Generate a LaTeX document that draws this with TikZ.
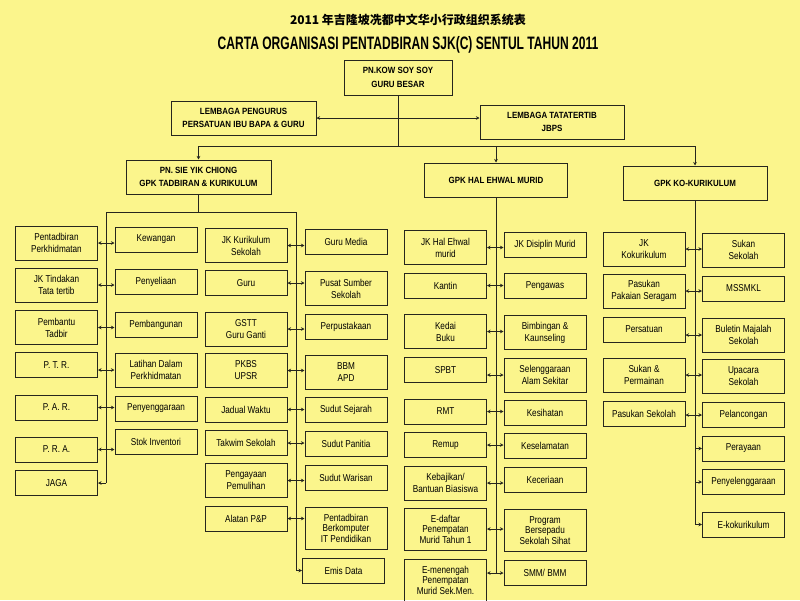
\documentclass[tikz,border=0pt]{standalone}
\usepackage{fontspec}
\setmainfont{Liberation Sans}
\newfontfamily\boxfont[FakeStretch=0.82]{Liberation Sans}
\newfontfamily\headfont[FakeStretch=0.88]{Liberation Sans}
\newfontfamily\titlefont[FakeStretch=0.67]{Liberation Sans}
\newfontfamily\cjkfont{Noto Sans CJK SC}
\usetikzlibrary{
	arrows.meta,
	calc,
	positioning
}
\definecolor{paper}{RGB}{251,245,140}
\definecolor{ink}{RGB}{38,38,30}
\tikzset{
	Org-Box/.style={rectangle,draw=ink,line width=1pt,align=center,inner sep=1pt,
		minimum width=82pt,minimum height=25pt,font=\boxfont\fontsize{10}{12}\selectfont},
	Box-Mid/.style={minimum height=34pt},
	Box-Tall/.style={minimum height=42pt,font=\boxfont\fontsize{10}{10.5}\selectfont},
	Org-Head/.style={rectangle,draw=ink,line width=1pt,align=center,inner sep=1pt,
		minimum height=34pt,font=\headfont\bfseries\fontsize{9}{13.5}\selectfont},
	Org-Line/.style={draw=ink,line width=0.9pt},
	Org-Arrow/.style={{Stealth[length=3.5pt,width=3.5pt]}-{Stealth[length=3.5pt,width=3.5pt]},draw=ink,line width=0.8pt},
	Org-Arrow1/.style={-{Stealth[length=3.5pt,width=3.5pt]},draw=ink,line width=0.8pt}
}
\begin{document}
\begin{tikzpicture}[x=1pt,y=-1pt]
	\useasboundingbox (0,0) rectangle (800,600);
	\fill [paper] (0,0) rectangle (800,600);
	\node [font=\cjkfont\bfseries\fontsize{12}{14}\selectfont] (node_title_cn) at (408,20) {2011 年吉隆坡冼都中文华小行政组织系统表};
	\node [font=\titlefont\bfseries\fontsize{18}{20}\selectfont] (node_title) at (408,45) {CARTA ORGANISASI PENTADBIRAN SJK(C) SENTUL TAHUN 2011};
	% top of the chart
	\node [Org-Head,minimum width=108pt,minimum height=35pt] (node_gb) at (398,77.5) {PN.KOW SOY SOY\\GURU BESAR};
	\node [Org-Head,minimum width=145pt] (node_lp) at (243.5,118) {LEMBAGA PENGURUS\\PERSATUAN IBU BAPA \& GURU};
	\node [Org-Head,minimum width=144pt] (node_lt) at (552,122) {LEMBAGA TATATERTIB\\JBPS};
	\node [Org-Head,minimum width=145pt] (node_gpk1) at (198.5,177) {PN. SIE YIK CHIONG\\GPK TADBIRAN \& KURIKULUM};
	\node [Org-Head,minimum width=143pt] (node_gpk2) at (496,180) {GPK HAL EHWAL MURID};
	\node [Org-Head,minimum width=144pt] (node_gpk3) at (695,183) {GPK KO-KURIKULUM};
	\coordinate (bus_mid) at (398,146);
	\draw [Org-Line] (node_gb.south) -- (bus_mid);
	\draw [Org-Line] (node_gpk1.north |- bus_mid) -- (node_gpk3.north |- bus_mid);
	\draw [Org-Arrow] (node_lp.east) -- (node_lp.east -| node_lt.west);
	\draw [Org-Arrow1] (node_gpk1.north |- bus_mid) -- (node_gpk1.north);
	\draw [Org-Arrow1] (node_gpk2.north |- bus_mid) -- (node_gpk2.north);
	\draw [Org-Arrow1] (node_gpk3.north |- bus_mid) -- (node_gpk3.north);
	% GPK tadbiran & kurikulum
	\node [Org-Box,Box-Mid] (node_a1) at (56.5,243) {Pentadbiran\\Perkhidmatan};
	\node [Org-Box,Box-Mid] (node_a2) at (56.5,285) {JK Tindakan\\Tata tertib};
	\node [Org-Box,Box-Mid] (node_a3) at (56.5,327.5) {Pembantu\\Tadbir};
	\node [Org-Box] (node_a4) at (56.5,365) {P. T. R.};
	\node [Org-Box] (node_a5) at (56.5,407.5) {P. A. R.};
	\node [Org-Box] (node_a6) at (56.5,449.5) {P. R. A.};
	\node [Org-Box] (node_a7) at (56.5,483) {JAGA};
	\node [Org-Box] (node_b1) at (156,239.5) {Kewangan};
	\node [Org-Box] (node_b2) at (156,282) {Penyeliaan};
	\node [Org-Box] (node_b3) at (156,324.5) {Pembangunan};
	\node [Org-Box,Box-Mid] (node_b4) at (156,370) {Latihan Dalam\\Perkhidmatan};
	\node [Org-Box] (node_b5) at (156,408.5) {Penyenggaraan};
	\node [Org-Box] (node_b6) at (156,442) {Stok Inventori};
	\node [Org-Box,Box-Mid] (node_c1) at (246,245.5) {JK Kurikulum\\Sekolah};
	\node [Org-Box] (node_c2) at (246,283) {Guru};
	\node [Org-Box,Box-Mid] (node_c3) at (246,329) {GSTT\\Guru Ganti};
	\node [Org-Box,Box-Mid] (node_c4) at (246,370.5) {PKBS\\UPSR};
	\node [Org-Box] (node_c5) at (246,409.5) {Jadual Waktu};
	\node [Org-Box] (node_c6) at (246,443) {Takwim Sekolah};
	\node [Org-Box,Box-Mid] (node_c7) at (246,480.5) {Pengayaan\\Pemulihan};
	\node [Org-Box] (node_c8) at (246,518.5) {Alatan P\&P};
	\node [Org-Box] (node_d1) at (346,242) {Guru Media};
	\node [Org-Box,Box-Mid] (node_d2) at (346,288.5) {Pusat Sumber\\Sekolah};
	\node [Org-Box] (node_d3) at (346,326.5) {Perpustakaan};
	\node [Org-Box,Box-Mid] (node_d4) at (346,372.5) {BBM\\APD};
	\node [Org-Box] (node_d5) at (346,410) {Sudut Sejarah};
	\node [Org-Box] (node_d6) at (346,444) {Sudut Panitia};
	\node [Org-Box] (node_d7) at (346,477.5) {Sudut Warisan};
	\node [Org-Box,Box-Tall] (node_d8) at (346,528) {Pentadbiran\\Berkomputer\\IT Pendidikan};
	\node [Org-Box] (node_d9) at (343.5,570.5) {Emis Data};
	\coordinate (trunk_l) at (106,212);
	\coordinate (trunk_r) at (296,212);
	\draw [Org-Line] (node_gpk1.south) -- (node_gpk1.south |- trunk_l);
	\draw [Org-Line] (trunk_l) -- (trunk_r);
	\draw [Org-Line] (trunk_l) -- (trunk_l |- node_a7.east);
	\draw [Org-Line] (trunk_r) -- (trunk_r |- node_d9.west);
	\draw [Org-Arrow] (node_a1.east) -- (node_a1.east -| node_b1.west);
	\draw [Org-Arrow] (node_a2.east) -- (node_a2.east -| node_b2.west);
	\draw [Org-Arrow] (node_a3.east) -- (node_a3.east -| node_b3.west);
	\draw [Org-Arrow] (node_b4.west -| node_a4.east) -- (node_b4.west);
	\draw [Org-Arrow] (node_a5.east) -- (node_a5.east -| node_b5.west);
	\draw [Org-Arrow] (node_a6.east) -- (node_a6.east -| node_b6.west);
	\draw [Org-Arrow1] (trunk_l |- node_a7.east) -- (node_a7.east);
	\draw [Org-Arrow] (node_c1.east) -- (node_c1.east -| node_d1.west);
	\draw [Org-Arrow] (node_c2.east) -- (node_c2.east -| node_d2.west);
	\draw [Org-Arrow] (node_c3.east) -- (node_c3.east -| node_d3.west);
	\draw [Org-Arrow] (node_c4.east) -- (node_c4.east -| node_d4.west);
	\draw [Org-Arrow] (node_c5.east) -- (node_c5.east -| node_d5.west);
	\draw [Org-Arrow] (node_c6.east) -- (node_c6.east -| node_d6.west);
	\draw [Org-Arrow] (node_c7.east) -- (node_c7.east -| node_d7.west);
	\draw [Org-Arrow] (node_c8.east) -- (node_c8.east -| node_d8.west);
	\draw [Org-Arrow1] (trunk_r |- node_d9.west) -- (node_d9.west);
	% GPK hal ehwal murid
	\node [Org-Box,Box-Mid] (node_e1) at (445.5,247.5) {JK Hal Ehwal\\murid};
	\node [Org-Box] (node_e2) at (445.5,285.5) {Kantin};
	\node [Org-Box,Box-Mid] (node_e3) at (445.5,331.5) {Kedai\\Buku};
	\node [Org-Box] (node_e4) at (445.5,370) {SPBT};
	\node [Org-Box] (node_e5) at (445.5,411.5) {RMT};
	\node [Org-Box] (node_e6) at (445.5,445) {Remup};
	\node [Org-Box,Box-Mid] (node_e7) at (445.5,483) {Kebajikan/\\Bantuan Biasiswa};
	\node [Org-Box,Box-Tall] (node_e8) at (445.5,529) {E-daftar\\Penempatan\\Murid Tahun 1};
	\node [Org-Box,Box-Tall] (node_e9) at (445.5,580) {E-menengah\\Penempatan\\Murid Sek.Men.};
	\node [Org-Box] (node_f1) at (545,244.5) {JK Disiplin Murid};
	\node [Org-Box] (node_f2) at (545,286) {Pengawas};
	\node [Org-Box,Box-Mid] (node_f3) at (545,332.5) {Bimbingan \&\\Kaunseling};
	\node [Org-Box,Box-Mid] (node_f4) at (545,375) {Selenggaraan\\Alam Sekitar};
	\node [Org-Box] (node_f5) at (545,412.5) {Kesihatan};
	\node [Org-Box] (node_f6) at (545,446) {Keselamatan};
	\node [Org-Box] (node_f7) at (545,480) {Keceriaan};
	\node [Org-Box,Box-Tall] (node_f8) at (545,530.5) {Program\\Bersepadu\\Sekolah Sihat};
	\node [Org-Box] (node_f9) at (545,573) {SMM/ BMM};
	\draw [Org-Line] (node_gpk2.south) -- (node_gpk2.south |- node_f9.west);
	\draw [Org-Arrow] (node_e1.east) -- (node_e1.east -| node_f1.west);
	\draw [Org-Arrow] (node_e2.east) -- (node_e2.east -| node_f2.west);
	\draw [Org-Arrow] (node_e3.east) -- (node_e3.east -| node_f3.west);
	\draw [Org-Arrow] (node_f4.west -| node_e4.east) -- (node_f4.west);
	\draw [Org-Arrow] (node_e5.east) -- (node_e5.east -| node_f5.west);
	\draw [Org-Arrow] (node_e6.east) -- (node_e6.east -| node_f6.west);
	\draw [Org-Arrow] (node_e7.east) -- (node_e7.east -| node_f7.west);
	\draw [Org-Arrow] (node_e8.east) -- (node_e8.east -| node_f8.west);
	\draw [Org-Arrow] (node_f9.west -| node_e9.east) -- (node_f9.west);
	% GPK ko-kurikulum
	\node [Org-Box,Box-Mid] (node_g1) at (644,249) {JK\\Kokurikulum};
	\node [Org-Box,Box-Mid] (node_g2) at (644,291) {Pasukan\\Pakaian Seragam};
	\node [Org-Box] (node_g3) at (644,329.5) {Persatuan};
	\node [Org-Box,Box-Mid] (node_g4) at (644,375) {Sukan \&\\Permainan};
	\node [Org-Box] (node_g5) at (644,413.5) {Pasukan Sekolah};
	\node [Org-Box,Box-Mid] (node_h1) at (743.5,250) {Sukan\\Sekolah};
	\node [Org-Box] (node_h2) at (743.5,288.5) {MSSMKL};
	\node [Org-Box,Box-Mid] (node_h3) at (743.5,335) {Buletin Majalah\\Sekolah};
	\node [Org-Box,Box-Mid] (node_h4) at (743.5,376.5) {Upacara\\Sekolah};
	\node [Org-Box] (node_h5) at (743.5,415) {Pelancongan};
	\node [Org-Box] (node_h6) at (743.5,448.5) {Perayaan};
	\node [Org-Box] (node_h7) at (743.5,482) {Penyelenggaraan};
	\node [Org-Box] (node_h8) at (743.5,524.5) {E-kokurikulum};
	\draw [Org-Line] (node_gpk3.south) -- (node_gpk3.south |- node_h8.west);
	\draw [Org-Arrow] (node_g1.east) -- (node_g1.east -| node_h1.west);
	\draw [Org-Arrow] (node_g2.east) -- (node_g2.east -| node_h2.west);
	\draw [Org-Arrow] (node_h3.west -| node_g3.east) -- (node_h3.west);
	\draw [Org-Arrow] (node_g4.east) -- (node_g4.east -| node_h4.west);
	\draw [Org-Arrow] (node_h5.west -| node_g5.east) -- (node_h5.west);
	\draw [Org-Arrow1] (node_gpk3.south |- node_h6.west) -- (node_h6.west);
	\draw [Org-Arrow1] (node_gpk3.south |- node_h7.west) -- (node_h7.west);
	\draw [Org-Arrow1] (node_gpk3.south |- node_h8.west) -- (node_h8.west);
\end{tikzpicture}
\end{document}
